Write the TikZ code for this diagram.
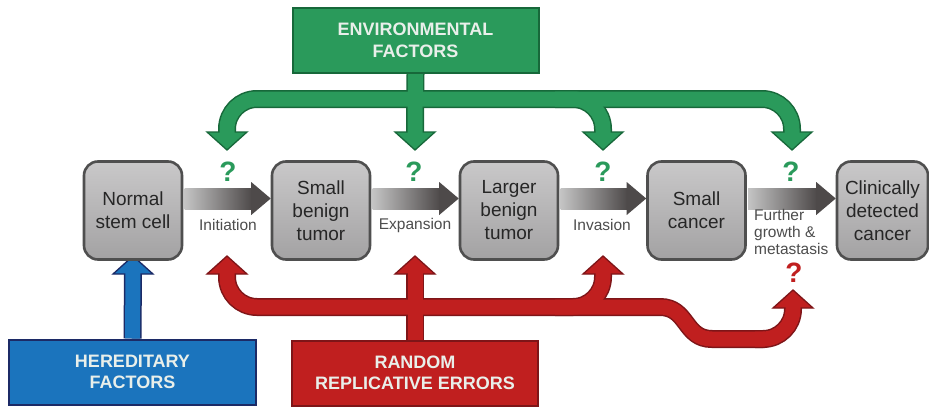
\documentclass[tikz,border=0pt]{standalone}
\usepackage{fontspec}
\setmainfont{Liberation Sans}
\usetikzlibrary{calc}
\definecolor{gmain}{HTML}{2A9A5B}
\definecolor{gdark}{HTML}{17683A}
\definecolor{rmain}{HTML}{C01F1F}
\definecolor{rdark}{HTML}{7E1518}
\definecolor{bmain}{HTML}{1B74BD}
\definecolor{bdark}{HTML}{1C2A66}
\definecolor{boxtext}{HTML}{E9EFEA}
\definecolor{cellline}{HTML}{4F4F4F}
\definecolor{celltop}{HTML}{C9C8C9}
\definecolor{cellbot}{HTML}{A3A2A3}
\definecolor{labelgray}{HTML}{4D4D4D}
\definecolor{arrowlight}{HTML}{C4C4C4}
\definecolor{arrowdark}{HTML}{4E4A4A}
\newcommand\myheadup[3]{\filldraw[fill=#1,draw=#2,line width=1.3pt,line join=miter] ($(#3)+(-20,18)$) -- (#3) -- ($(#3)+(20,18)$) -- cycle;}
\newcommand\myheaddown[3]{\filldraw[fill=#1,draw=#2,line width=1.3pt,line join=miter] ($(#3)+(-20,-18)$) -- (#3) -- ($(#3)+(20,-18)$) -- cycle;}
\begin{document}
\begin{tikzpicture}[x=1pt,y=-1pt,
  cell/.style={draw=cellline, line width=2.6pt, rounded corners=14pt, top color=celltop, bottom color=cellbot,
    minimum width=98pt, minimum height=98pt, align=center, font=\fontsize{19}{23}\selectfont, text=black!85, inner sep=0pt},
  lbl/.style={font=\fontsize{15.5}{17}\selectfont, text=labelgray, inner sep=0pt},
  qmark/.style={font=\fontsize{28}{30}\selectfont\bfseries, inner sep=0pt},
  factor/.style={line width=2pt, minimum width=246pt, minimum height=65pt, align=center,
    font=\fontsize{18}{21.5}\selectfont\bfseries, text=boxtext},
  gdk/.style={line width=18pt, draw=gdark},
  glt/.style={line width=15pt, draw=gmain},
  rdk/.style={line width=18pt, draw=rdark},
  rlt/.style={line width=15pt, draw=rmain},
  bdk/.style={line width=18pt, draw=bdark},
  blt/.style={line width=15pt, draw=bmain},
]
\useasboundingbox (0,0) rectangle (929,407);
\fill[white] (0,0) rectangle (929,407);

% factor box positions (drawn on top later)
\path (415.5,40.5) node[factor] (env) {};
\path (415,373) node[factor] (rre) {};
\path (132.5,372) node[factor, minimum width=247pt] (her) {};

% tips
\coordinate (gt1) at (227,150);
\coordinate (gt2) at (415,150);
\coordinate (gt3) at (603,150);
\coordinate (gt4) at (792,150);
\coordinate (rt1) at (227,256);
\coordinate (rt2) at (415,256);
\coordinate (rt3) at (603,256);
\coordinate (rt4) at (793,290);
\coordinate (bt1) at (133,256);
\coordinate (gbar) at (415,99);
\coordinate (rbar) at (415,307);

% dark outlines
\draw[gdk] (env.south) -- ($(gt2)+(0,-16)$);
\draw[gdk,rounded corners=30pt] (gbar) -- (227,99) -- ($(gt1)+(0,-16)$);
\draw[gdk,rounded corners=30pt] (gbar) -- (792,99) -- ($(gt4)+(0,-16)$);
\draw[gdk,rounded corners=30pt] (555,99) -- (603,99) -- ($(gt3)+(0,-16)$);
\draw[rdk] (rre.north) -- ($(rt2)+(0,16)$);
\draw[rdk,rounded corners=30pt] (rbar) -- (227,307) -- ($(rt1)+(0,16)$);
\draw[rdk,rounded corners=30pt] (555,307) -- (603,307) -- ($(rt3)+(0,16)$);
\draw[rdk] (rbar) -- (660,307) .. controls (688,307) and (684,339) .. (712,339) -- (765,339);
\draw[rdk,rounded corners=30pt] (755,339) -- (793,339) -- ($(rt4)+(0,16)$);
\draw[bdk] (her.north) -- ($(bt1)+(0,16)$);

% heads
\myheaddown{gmain}{gdark}{gt1}
\myheaddown{gmain}{gdark}{gt2}
\myheaddown{gmain}{gdark}{gt3}
\myheaddown{gmain}{gdark}{gt4}
\myheadup{rmain}{rdark}{rt1}
\myheadup{rmain}{rdark}{rt2}
\myheadup{rmain}{rdark}{rt3}
\myheadup{rmain}{rdark}{rt4}
\myheadup{bmain}{bdark}{bt1}

% light fills
\draw[glt] (env.south) -- ($(gt2)+(0,-16)$);
\draw[glt,rounded corners=30pt] (gbar) -- (227,99) -- ($(gt1)+(0,-16)$);
\draw[glt,rounded corners=30pt] (gbar) -- (792,99) -- ($(gt4)+(0,-16)$);
\draw[glt,rounded corners=30pt] (555,99) -- (603,99) -- ($(gt3)+(0,-16)$);
\draw[rlt] (rre.north) -- ($(rt2)+(0,16)$);
\draw[rlt,rounded corners=30pt] (rbar) -- (227,307) -- ($(rt1)+(0,16)$);
\draw[rlt,rounded corners=30pt] (555,307) -- (603,307) -- ($(rt3)+(0,16)$);
\draw[rlt] (rbar) -- (660,307) .. controls (688,307) and (684,339) .. (712,339) -- (765,339);
\draw[rlt,rounded corners=30pt] (755,339) -- (793,339) -- ($(rt4)+(0,16)$);
\draw[blt] (her.north) -- ($(bt1)+(0,16)$);

% factor boxes
\node[factor, fill=gmain, draw=gdark] at (env) {ENVIRONMENTAL\\FACTORS};
\node[factor, fill=rmain, draw=rdark] at (rre) {RANDOM\\REPLICATIVE ERRORS};
\node[factor, fill=bmain, draw=bdark, minimum width=247pt] at (her) {HEREDITARY\\FACTORS};

% cells
\node[cell] (n1) at (133,210.5) {Normal\\stem cell};
\node[cell] (n2) at (321,210.5) {Small\\benign\\tumor};
\node[cell] (n3) at (509,210.5) {Larger\\benign\\tumor};
\node[cell] (n4) at (696.5,210.5) {Small\\cancer};
\node[cell, minimum width=91pt] (n5) at (882.5,210.5) {Clinically\\detected\\cancer};

% gray arrows (centre line 12pt above the box centres)
\foreach \a/\b in {n1/n2,n2/n3,n3/n4,n4/n5}{
  \shade[left color=arrowlight, right color=arrowdark] ($(\a.east)+(1.3,-22.5)$) rectangle ($(\b.west)+(-19,-1.5)$);
  \fill[arrowdark] ($(\b.west)+(-19.5,-28.5)$) -- ($(\b.west)+(0,-12)$) -- ($(\b.west)+(-19.5,4.5)$) -- cycle;
}

% labels
\node[lbl] (l1) at (228,225) {Initiation};
\node[lbl] (l2) at (415,225) {Expansion};
\node[lbl] (l3) at (602,225) {Invasion};
\node[lbl, align=left, anchor=west] (l4) at (754,232) {Further\\growth \&\\metastasis};

% question marks
\node[qmark, text=gmain] (q1) at (228,172) {?};
\node[qmark, text=gmain] (q2) at (414,172) {?};
\node[qmark, text=gmain] (q3) at (603,172) {?};
\node[qmark, text=gmain] (q4) at (791,172) {?};
\node[qmark, text=rmain] (q5) at (794,273) {?};
\end{tikzpicture}
\end{document}
